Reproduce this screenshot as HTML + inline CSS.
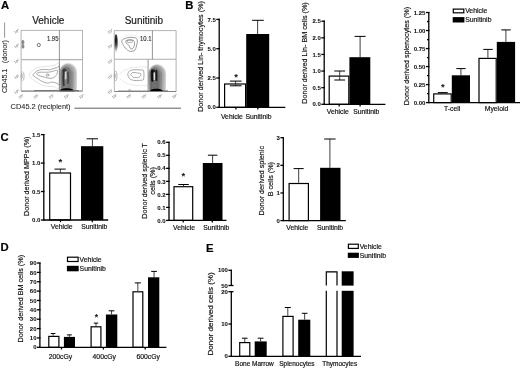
<!DOCTYPE html>
<html><head><meta charset="utf-8"><title>Figure</title>
<style>
html,body{margin:0;padding:0;background:#fff;}
body{width:520px;height:368px;overflow:hidden;}
svg{display:block;font-family:"Liberation Sans",sans-serif;will-change:transform;-webkit-font-smoothing:antialiased;}
</style></head>
<body>
<svg width="520" height="368" viewBox="0 0 520 368">
<defs><filter id="gblur" x="0" y="0" width="100%" height="100%"><feGaussianBlur stdDeviation="0.3"/></filter></defs>
<rect width="520" height="368" fill="#fff"/>
<g filter="url(#gblur)">
<text x="1.00" y="8.70" font-size="11.3" text-anchor="start" font-weight="bold" fill="#000" stroke="#000" stroke-width="0.18" >A</text>
<text x="185.20" y="8.90" font-size="11.3" text-anchor="start" font-weight="bold" fill="#000" stroke="#000" stroke-width="0.18" >B</text>
<text x="0.60" y="141.20" font-size="11.3" text-anchor="start" font-weight="bold" fill="#000" stroke="#000" stroke-width="0.18" >C</text>
<text x="0.60" y="251.30" font-size="11.3" text-anchor="start" font-weight="bold" fill="#000" stroke="#000" stroke-width="0.18" >D</text>
<text x="206.00" y="251.60" font-size="11.3" text-anchor="start" font-weight="bold" fill="#000" stroke="#000" stroke-width="0.18" >E</text>
<text x="32.20" y="24.40" font-size="10" text-anchor="start" font-weight="normal" fill="#1a1a1a" stroke="#1a1a1a" stroke-width="0.18" >Vehicle</text>
<text x="124.70" y="24.20" font-size="10" text-anchor="start" font-weight="normal" fill="#1a1a1a" stroke="#1a1a1a" stroke-width="0.18" >Sunitinib</text>
<defs>
<linearGradient id="edge2" x1="0" x2="1" y1="0" y2="0">
<stop offset="0" stop-color="#111"/><stop offset="0.5" stop-color="#444"/><stop offset="1" stop-color="#d0d0d0"/>
</linearGradient>
<linearGradient id="edge2v" x1="0" x2="0" y1="0" y2="1">
<stop offset="0" stop-color="#fff" stop-opacity="0.8"/><stop offset="0.25" stop-color="#fff" stop-opacity="0"/><stop offset="0.6" stop-color="#fff" stop-opacity="0.1"/><stop offset="1" stop-color="#fff" stop-opacity="0.85"/>
</linearGradient>
<radialGradient id="edgeR" cx="0.5" cy="0.3" r="0.7" fx="0.5" fy="0.3">
<stop offset="0" stop-color="#000"/><stop offset="0.3" stop-color="#333"/><stop offset="0.65" stop-color="#999"/><stop offset="1" stop-color="#fff" stop-opacity="0"/>
</radialGradient>
<filter id="soft" x="-20%" y="-20%" width="140%" height="140%"><feGaussianBlur stdDeviation="0.35"/></filter>
</defs>
<g fill="none" stroke-linejoin="round">
<g filter="url(#soft)">
<path d="M29.20,75.50 C29.12,74.33 30.53,72.95 31.50,71.80 C32.47,70.65 33.58,69.40 35.00,68.60 C36.42,67.80 38.33,67.30 40.00,67.00 C41.67,66.70 43.33,66.97 45.00,66.80 C46.67,66.63 48.33,66.30 50.00,66.00 C51.67,65.70 53.47,65.23 55.00,65.00 C56.53,64.77 58.50,60.93 59.20,64.60 C59.90,68.27 60.07,83.33 59.20,87.00 C58.33,90.67 55.87,86.70 54.00,86.60 C52.13,86.50 50.00,86.67 48.00,86.40 C46.00,86.13 43.92,85.73 42.00,85.00 C40.08,84.27 38.17,83.03 36.50,82.00 C34.83,80.97 33.22,79.88 32.00,78.80 C30.78,77.72 29.28,76.67 29.20,75.50 Z" stroke="#c8c8c8" stroke-width="0.5"/>
<path d="M32.90,75.10 C32.82,74.32 34.18,73.35 35.00,72.60 C35.82,71.85 36.80,71.08 37.80,70.60 C38.80,70.12 39.92,69.90 41.00,69.70 C42.08,69.50 43.30,69.42 44.30,69.40 C45.30,69.38 46.18,69.53 47.00,69.60 C47.82,69.67 48.45,69.87 49.20,69.80 C49.95,69.73 50.55,69.47 51.50,69.20 C52.45,68.93 53.88,68.50 54.90,68.20 C55.92,67.90 56.87,67.53 57.60,67.40 C58.33,67.27 59.02,64.67 59.30,67.40 C59.58,70.13 59.58,81.10 59.30,83.80 C59.02,86.50 58.20,83.77 57.60,83.60 C57.00,83.43 56.38,83.02 55.70,82.80 C55.02,82.58 54.17,82.42 53.50,82.30 C52.83,82.18 52.37,82.03 51.70,82.10 C51.03,82.17 50.18,82.52 49.50,82.70 C48.82,82.88 48.35,83.22 47.60,83.20 C46.85,83.18 45.82,82.87 45.00,82.60 C44.18,82.33 43.45,81.95 42.70,81.60 C41.95,81.25 41.18,80.90 40.50,80.50 C39.82,80.10 39.43,79.73 38.60,79.20 C37.77,78.67 36.45,77.98 35.50,77.30 C34.55,76.62 32.98,75.88 32.90,75.10 Z" stroke="#6e6e6e" stroke-width="0.6"/>
<path d="M36.60,73.50 C36.73,72.97 38.12,72.52 39.40,72.30 C40.68,72.08 42.80,72.22 44.30,72.20 C45.80,72.18 47.03,72.33 48.40,72.20 C49.77,72.07 51.30,71.70 52.50,71.40 C53.70,71.10 54.80,70.57 55.60,70.40 C56.40,70.23 57.03,69.90 57.30,70.40 C57.57,70.90 57.48,72.48 57.20,73.40 C56.92,74.32 56.13,75.23 55.60,75.90 C55.07,76.57 54.60,77.02 54.00,77.40 C53.40,77.78 52.67,78.03 52.00,78.20 C51.33,78.37 50.68,78.43 50.00,78.40 C49.32,78.37 48.58,78.15 47.90,78.00 C47.22,77.85 46.83,77.72 45.90,77.50 C44.97,77.28 43.52,77.03 42.30,76.70 C41.08,76.37 39.55,76.03 38.60,75.50 C37.65,74.97 36.47,74.03 36.60,73.50 Z" stroke="#6e6e6e" stroke-width="0.6"/>
<ellipse cx="47.6" cy="75.1" rx="1.5" ry="1.0" stroke="#666" stroke-width="0.6"/>
</g>
<g filter="url(#soft)">
<path d="M59.90,90.40 C59.60,83.17 59.50,77.75 59.60,72.32 A8.50,8.92 0 0 1 76.60,72.32 C76.70,77.75 76.60,83.17 76.30,90.40 Z" fill="#dbdbdb" stroke="none"/>
<path d="M60.33,90.40 C60.03,83.13 59.93,77.69 60.03,72.24 A7.76,8.14 0 0 1 75.54,72.24 C75.64,77.69 75.54,83.13 75.24,90.40 Z" fill="#cdcdcd" stroke="none"/>
<path d="M60.76,90.40 C60.46,83.10 60.36,77.62 60.46,72.15 A7.01,7.36 0 0 1 74.49,72.15 C74.59,77.62 74.49,83.10 74.19,90.40 Z" fill="#c0c0c0" stroke="none"/>
<path d="M61.19,90.40 C60.89,83.06 60.79,77.56 60.89,72.06 A6.27,6.59 0 0 1 73.43,72.06 C73.53,77.56 73.43,83.06 73.13,90.40 Z" fill="#b3b3b3" stroke="none"/>
<path d="M61.61,90.40 C61.31,83.03 61.21,77.50 61.31,71.97 A5.53,5.80 0 0 1 72.37,71.97 C72.47,77.50 72.37,83.03 72.07,90.40 Z" fill="#a6a6a6" stroke="none"/>
<path d="M62.04,90.40 C61.74,82.99 61.64,77.44 61.74,71.88 A4.79,5.03 0 0 1 71.31,71.88 C71.41,77.44 71.31,82.99 71.01,90.40 Z" fill="#999999" stroke="none"/>
<path d="M62.47,90.40 C62.17,82.96 62.07,77.38 62.17,71.79 A4.04,4.25 0 0 1 70.26,71.79 C70.36,77.38 70.26,82.96 69.96,90.40 Z" fill="#8c8c8c" stroke="none"/>
<path d="M62.90,90.40 C62.60,82.92 62.50,77.31 62.60,71.71 A3.30,3.47 0 0 1 69.20,71.71 C69.30,77.31 69.20,82.92 68.90,90.40 Z" fill="#7f7f7f" stroke="none"/>
<path d="M59.90,90.40 C59.60,83.17 59.50,77.75 59.60,72.32 A8.50,8.92 0 0 1 76.60,72.32 C76.70,77.75 76.60,83.17 76.30,90.40" fill="none" stroke="#a8a8a8" stroke-width="0.38"/>
<path d="M60.33,90.40 C60.03,83.13 59.93,77.69 60.03,72.24 A7.76,8.14 0 0 1 75.54,72.24 C75.64,77.69 75.54,83.13 75.24,90.40" fill="none" stroke="#9b9b9b" stroke-width="0.38"/>
<path d="M60.76,90.40 C60.46,83.10 60.36,77.62 60.46,72.15 A7.01,7.36 0 0 1 74.49,72.15 C74.59,77.62 74.49,83.10 74.19,90.40" fill="none" stroke="#8e8e8e" stroke-width="0.38"/>
<path d="M61.19,90.40 C60.89,83.06 60.79,77.56 60.89,72.06 A6.27,6.59 0 0 1 73.43,72.06 C73.53,77.56 73.43,83.06 73.13,90.40" fill="none" stroke="#828282" stroke-width="0.38"/>
<path d="M61.61,90.40 C61.31,83.03 61.21,77.50 61.31,71.97 A5.53,5.80 0 0 1 72.37,71.97 C72.47,77.50 72.37,83.03 72.07,90.40" fill="none" stroke="#757575" stroke-width="0.38"/>
<path d="M62.04,90.40 C61.74,82.99 61.64,77.44 61.74,71.88 A4.79,5.03 0 0 1 71.31,71.88 C71.41,77.44 71.31,82.99 71.01,90.40" fill="none" stroke="#696969" stroke-width="0.38"/>
<path d="M62.47,90.40 C62.17,82.96 62.07,77.38 62.17,71.79 A4.04,4.25 0 0 1 70.26,71.79 C70.36,77.38 70.26,82.96 69.96,90.40" fill="none" stroke="#5c5c5c" stroke-width="0.38"/>
<path d="M62.90,90.40 C62.60,82.92 62.50,77.31 62.60,71.71 A3.30,3.47 0 0 1 69.20,71.71 C69.30,77.31 69.20,82.92 68.90,90.40" fill="none" stroke="#505050" stroke-width="0.38"/>
<ellipse cx="64.60" cy="70.14" rx="2.0" ry="1.5" fill="#333" fill-opacity="0.85"/>
<path d="M63.70,70.24 C63.30,73.24 63.40,82.24 63.80,85.24" fill="none" stroke="#333" stroke-width="1.7" stroke-linecap="round"/>
<path d="M67.80,72.24 C68.20,75.24 68.20,80.24 67.90,83.24" fill="none" stroke="#333" stroke-opacity="0.85" stroke-width="1.4" stroke-linecap="round"/>
<path d="M65.80,71.54 V79.24" stroke="#f0f0f0" stroke-width="1.1"/>
<path d="M62.20,71.74 C62.02,78.74 62.20,84.40 62.56,90.40" stroke="#6a6a6a" stroke-width="0.35"/>
<path d="M69.40,71.74 C69.58,78.74 69.40,84.40 69.04,90.40" stroke="#6a6a6a" stroke-width="0.35"/>
<path d="M71.20,71.74 C71.47,78.74 71.20,84.40 70.66,90.40" stroke="#6a6a6a" stroke-width="0.35"/>
<path d="M72.80,71.74 C73.15,78.74 72.80,84.40 72.10,90.40" stroke="#6a6a6a" stroke-width="0.35"/>
</g>
<g filter="url(#soft)">
<path d="M34,90.6 L60,90.4" stroke="#555" stroke-width="0.9"/>
<path d="M59.6,91.6 C59.8,89.4 62.5,88.4 66.5,88.3 C70.5,88.2 73.4,88.8 74.6,91.6 Z" fill="#000"/>
<path d="M73,90.6 L79,90.6" stroke="#444" stroke-width="0.9"/>
</g>
<g filter="url(#soft)">
<ellipse cx="22.6" cy="76.3" rx="1.5" ry="4.4" stroke="#8a8a8a" stroke-width="0.6"/>
<ellipse cx="22.6" cy="76.3" rx="0.5" ry="2.2" fill="#c4c4c4"/>
<ellipse cx="22.9" cy="42.4" rx="1.5" ry="2.4" fill="#8a8a8a"/>
<ellipse cx="22.9" cy="46.4" rx="1.5" ry="2.2" fill="#8a8a8a"/>
<circle cx="38.8" cy="45.0" r="1.6" stroke="#6a6a6a" stroke-width="0.9"/>
</g>
<rect x="21.1" y="30.4" width="61.4" height="60.7" stroke="#9a9a9a" stroke-width="0.75"/>
<path d="M21.1,59.7 H82.5" stroke="#b4b4b4" stroke-width="1.2"/>
<path d="M59.4,30.4 V91.1" stroke="#707070" stroke-width="0.75"/>
<path d="M21.1,91.1 H82.5" stroke="#7a7a7a" stroke-width="0.9"/>
<g filter="url(#soft)">
<path d="M119.2,47.5 C117.8,41 121.5,35.6 128,35.2 C134,34.9 139,35.6 140.2,39.2" stroke="#dadada" stroke-width="0.5"/>
<path d="M121.60,41.50 C121.52,40.52 122.43,40.00 123.00,39.50 C123.57,39.00 124.17,38.82 125.00,38.50 C125.83,38.18 126.97,37.80 128.00,37.60 C129.03,37.40 130.20,37.30 131.20,37.30 C132.20,37.30 133.10,37.40 134.00,37.60 C134.90,37.80 136.03,37.93 136.60,38.50 C137.17,39.07 137.33,40.12 137.40,41.00 C137.47,41.88 137.20,42.80 137.00,43.80 C136.80,44.80 136.53,45.97 136.20,47.00 C135.87,48.03 135.62,49.30 135.00,50.00 C134.38,50.70 133.38,51.00 132.50,51.20 C131.62,51.40 130.55,51.40 129.70,51.20 C128.85,51.00 128.15,50.57 127.40,50.00 C126.65,49.43 125.85,48.57 125.20,47.80 C124.55,47.03 124.10,46.45 123.50,45.40 C122.90,44.35 121.68,42.48 121.60,41.50 Z" stroke="#666" stroke-width="0.65"/>
<path d="M125.80,40.80 C126.13,40.25 127.55,40.32 128.50,40.20 C129.45,40.08 130.67,40.07 131.50,40.10 C132.33,40.13 133.00,40.00 133.50,40.40 C134.00,40.80 134.37,41.67 134.50,42.50 C134.63,43.33 134.48,44.55 134.30,45.40 C134.12,46.25 133.72,47.03 133.40,47.60 C133.08,48.17 132.88,48.65 132.40,48.80 C131.92,48.95 130.98,48.88 130.50,48.50 C130.02,48.12 129.83,47.12 129.50,46.50 C129.17,45.88 129.00,45.30 128.50,44.80 C128.00,44.30 126.95,44.17 126.50,43.50 C126.05,42.83 125.47,41.35 125.80,40.80 Z" stroke="#666" stroke-width="0.65"/>
<rect x="127.2" y="39.8" width="5.2" height="2.6" rx="0.8" stroke="#777" stroke-width="0.6"/>
</g>
<g filter="url(#soft)">
<ellipse cx="116.0" cy="44.0" rx="2.1" ry="10.0" fill="url(#edgeR)"/>
</g>
<g filter="url(#soft)">
<path d="M119.5,75 C123,68.5 134,66.5 147.8,66.8" stroke="#d2d2d2" stroke-width="0.5"/>
<path d="M119.5,78 C125,85.5 136,86 147.8,85.4" stroke="#d2d2d2" stroke-width="0.5"/>
<path d="M127.80,74.40 C127.77,73.08 128.73,71.75 129.60,71.00 C130.47,70.25 131.77,70.10 133.00,69.90 C134.23,69.70 135.70,69.78 137.00,69.80 C138.30,69.82 139.70,69.83 140.80,70.00 C141.90,70.17 143.13,69.27 143.60,70.80 C144.07,72.33 144.12,77.62 143.60,79.20 C143.08,80.78 141.63,80.07 140.50,80.30 C139.37,80.53 138.02,80.62 136.80,80.60 C135.58,80.58 134.37,80.48 133.20,80.20 C132.03,79.92 130.70,79.87 129.80,78.90 C128.90,77.93 127.83,75.72 127.80,74.40 Z" stroke="#6e6e6e" stroke-width="0.6"/>
<path d="M130.80,74.60 C130.73,73.87 131.83,72.93 132.60,72.60 C133.37,72.27 134.53,72.52 135.40,72.60 C136.27,72.68 136.97,72.97 137.80,73.10 C138.63,73.23 139.93,72.98 140.40,73.40 C140.87,73.82 140.90,74.93 140.60,75.60 C140.30,76.27 139.40,77.07 138.60,77.40 C137.80,77.73 136.73,77.67 135.80,77.60 C134.87,77.53 133.83,77.50 133.00,77.00 C132.17,76.50 130.87,75.33 130.80,74.60 Z" stroke="#6e6e6e" stroke-width="0.6"/>
</g>
<g filter="url(#soft)">
<path d="M148.90,90.80 C148.60,83.89 148.50,78.71 148.60,73.52 A8.50,8.93 0 0 1 165.60,73.52 C165.70,78.71 165.60,83.89 165.30,90.80 Z" fill="#d6d6d6" stroke="none"/>
<path d="M149.26,90.80 C148.96,83.84 148.86,78.61 148.96,73.39 A7.76,8.14 0 0 1 164.47,73.39 C164.57,78.61 164.47,83.84 164.17,90.80 Z" fill="#c7c7c7" stroke="none"/>
<path d="M149.61,90.80 C149.31,83.78 149.21,78.52 149.31,73.25 A7.01,7.37 0 0 1 163.34,73.25 C163.44,78.52 163.34,83.78 163.04,90.80 Z" fill="#b8b8b8" stroke="none"/>
<path d="M149.97,90.80 C149.67,83.73 149.57,78.42 149.67,73.12 A6.27,6.59 0 0 1 162.21,73.12 C162.31,78.42 162.21,83.73 161.91,90.80 Z" fill="#aaaaaa" stroke="none"/>
<path d="M150.33,90.80 C150.03,83.67 149.93,78.33 150.03,72.98 A5.53,5.80 0 0 1 161.09,72.98 C161.19,78.33 161.09,83.67 160.79,90.80 Z" fill="#9b9b9b" stroke="none"/>
<path d="M150.69,90.80 C150.39,83.62 150.29,78.23 150.39,72.84 A4.79,5.02 0 0 1 159.96,72.84 C160.06,78.23 159.96,83.62 159.66,90.80 Z" fill="#8d8d8d" stroke="none"/>
<path d="M151.04,90.80 C150.74,83.56 150.64,78.13 150.74,72.71 A4.04,4.25 0 0 1 158.83,72.71 C158.93,78.13 158.83,83.56 158.53,90.80 Z" fill="#7e7e7e" stroke="none"/>
<path d="M151.40,90.80 C151.10,83.51 151.00,78.04 151.10,72.57 A3.30,3.46 0 0 1 157.70,72.57 C157.80,78.04 157.70,83.51 157.40,90.80 Z" fill="#707070" stroke="none"/>
<path d="M148.90,90.80 C148.60,83.89 148.50,78.71 148.60,73.52 A8.50,8.93 0 0 1 165.60,73.52 C165.70,78.71 165.60,83.89 165.30,90.80" fill="none" stroke="#a8a8a8" stroke-width="0.38"/>
<path d="M149.26,90.80 C148.96,83.84 148.86,78.61 148.96,73.39 A7.76,8.14 0 0 1 164.47,73.39 C164.57,78.61 164.47,83.84 164.17,90.80" fill="none" stroke="#9b9b9b" stroke-width="0.38"/>
<path d="M149.61,90.80 C149.31,83.78 149.21,78.52 149.31,73.25 A7.01,7.37 0 0 1 163.34,73.25 C163.44,78.52 163.34,83.78 163.04,90.80" fill="none" stroke="#8e8e8e" stroke-width="0.38"/>
<path d="M149.97,90.80 C149.67,83.73 149.57,78.42 149.67,73.12 A6.27,6.59 0 0 1 162.21,73.12 C162.31,78.42 162.21,83.73 161.91,90.80" fill="none" stroke="#828282" stroke-width="0.38"/>
<path d="M150.33,90.80 C150.03,83.67 149.93,78.33 150.03,72.98 A5.53,5.80 0 0 1 161.09,72.98 C161.19,78.33 161.09,83.67 160.79,90.80" fill="none" stroke="#757575" stroke-width="0.38"/>
<path d="M150.69,90.80 C150.39,83.62 150.29,78.23 150.39,72.84 A4.79,5.02 0 0 1 159.96,72.84 C160.06,78.23 159.96,83.62 159.66,90.80" fill="none" stroke="#696969" stroke-width="0.38"/>
<path d="M151.04,90.80 C150.74,83.56 150.64,78.13 150.74,72.71 A4.04,4.25 0 0 1 158.83,72.71 C158.93,78.13 158.83,83.56 158.53,90.80" fill="none" stroke="#5c5c5c" stroke-width="0.38"/>
<path d="M151.40,90.80 C151.10,83.51 151.00,78.04 151.10,72.57 A3.30,3.46 0 0 1 157.70,72.57 C157.80,78.04 157.70,83.51 157.40,90.80" fill="none" stroke="#505050" stroke-width="0.38"/>
<ellipse cx="153.10" cy="71.00" rx="2.0" ry="1.5" fill="#111" fill-opacity="0.85"/>
<path d="M152.20,70.60 C151.80,73.60 151.90,77.60 152.30,80.60" fill="none" stroke="#111" stroke-width="2.4" stroke-linecap="round"/>
<path d="M156.30,71.10 C156.70,74.10 156.70,77.10 156.40,80.10" fill="none" stroke="#111" stroke-opacity="0.85" stroke-width="2.0" stroke-linecap="round"/>
<path d="M154.30,72.40 V80.10" stroke="#f0f0f0" stroke-width="1.1"/>
<path d="M150.70,72.60 C150.52,79.60 150.70,84.80 151.06,90.80" stroke="#6a6a6a" stroke-width="0.35"/>
<path d="M157.90,72.60 C158.08,79.60 157.90,84.80 157.54,90.80" stroke="#6a6a6a" stroke-width="0.35"/>
<path d="M159.70,72.60 C159.97,79.60 159.70,84.80 159.16,90.80" stroke="#6a6a6a" stroke-width="0.35"/>
<path d="M161.30,72.60 C161.65,79.60 161.30,84.80 160.60,90.80" stroke="#6a6a6a" stroke-width="0.35"/>
</g>
<g filter="url(#soft)">
<path d="M149.4,91.8 C149.8,89.8 152.2,88.8 155.6,88.8 C159.6,88.8 162.2,89.3 163.5,91.8 Z" fill="#000"/>
<path d="M162,91 L168,91" stroke="#444" stroke-width="0.9"/>
<path d="M118,91 L149,91" stroke="#666" stroke-width="0.7"/>
<circle cx="129.6" cy="90.6" r="1.1" stroke="#888" stroke-width="0.6"/>
<ellipse cx="115.6" cy="76" rx="1.4" ry="4.8" stroke="#8a8a8a" stroke-width="0.6"/>
<ellipse cx="115.4" cy="76" rx="0.5" ry="2.4" fill="#bbb"/>
</g>
<rect x="114.3" y="30.6" width="61.8" height="60.9" stroke="#9a9a9a" stroke-width="0.75"/>
<path d="M114.3,59.3 H176.1" stroke="#adadad" stroke-width="1.1"/>
<path d="M152.4,30.6 V59.3 M148.1,59.3 V91.5" stroke="#707070" stroke-width="0.75"/>
<path d="M114.3,91.5 H176.1" stroke="#7a7a7a" stroke-width="0.9"/>
</g>
<g font-size="3.6" fill="#505050" text-anchor="middle" filter="url(#soft)">
<text x="0" y="0" transform="translate(17.4,32.4) rotate(-30)">10<tspan font-size="2.4" dy="-1.4">4</tspan></text>
<text x="0" y="0" transform="translate(17.4,47.2) rotate(-30)">10<tspan font-size="2.4" dy="-1.4">3</tspan></text>
<text x="0" y="0" transform="translate(17.4,62.400000000000006) rotate(-30)">10<tspan font-size="2.4" dy="-1.4">2</tspan></text>
<text x="0" y="0" transform="translate(17.4,77.8) rotate(-30)">10<tspan font-size="2.4" dy="-1.4">1</tspan></text>
<text x="0" y="0" transform="translate(17.4,93.0) rotate(-30)">10<tspan font-size="2.4" dy="-1.4">0</tspan></text>
<text x="0" y="0" transform="translate(110.8,32.6) rotate(-30)">10<tspan font-size="2.4" dy="-1.4">4</tspan></text>
<text x="0" y="0" transform="translate(110.8,47.400000000000006) rotate(-30)">10<tspan font-size="2.4" dy="-1.4">3</tspan></text>
<text x="0" y="0" transform="translate(110.8,62.6) rotate(-30)">10<tspan font-size="2.4" dy="-1.4">2</tspan></text>
<text x="0" y="0" transform="translate(110.8,77.8) rotate(-30)">10<tspan font-size="2.4" dy="-1.4">1</tspan></text>
<text x="0" y="0" transform="translate(110.8,92.8) rotate(-30)">10<tspan font-size="2.4" dy="-1.4">0</tspan></text>
<text x="0" y="0" transform="translate(21.6,97.60000000000001) rotate(-30)">10<tspan font-size="2.4" dy="-1.4">0</tspan></text>
<text x="0" y="0" transform="translate(36.6,97.60000000000001) rotate(-30)">10<tspan font-size="2.4" dy="-1.4">1</tspan></text>
<text x="0" y="0" transform="translate(51.8,97.60000000000001) rotate(-30)">10<tspan font-size="2.4" dy="-1.4">2</tspan></text>
<text x="0" y="0" transform="translate(67.0,97.60000000000001) rotate(-30)">10<tspan font-size="2.4" dy="-1.4">3</tspan></text>
<text x="0" y="0" transform="translate(82.2,97.60000000000001) rotate(-30)">10<tspan font-size="2.4" dy="-1.4">4</tspan></text>
<text x="0" y="0" transform="translate(115.0,97.4) rotate(-30)">10<tspan font-size="2.4" dy="-1.4">0</tspan></text>
<text x="0" y="0" transform="translate(129.6,97.4) rotate(-30)">10<tspan font-size="2.4" dy="-1.4">1</tspan></text>
<text x="0" y="0" transform="translate(144.8,97.4) rotate(-30)">10<tspan font-size="2.4" dy="-1.4">2</tspan></text>
<text x="0" y="0" transform="translate(160.4,97.4) rotate(-30)">10<tspan font-size="2.4" dy="-1.4">3</tspan></text>
<text x="0" y="0" transform="translate(175.2,97.4) rotate(-30)">10<tspan font-size="2.4" dy="-1.4">4</tspan></text>
</g>
<g font-size="6.5" fill="#2a2a2a" stroke="#2a2a2a" stroke-width="0.12">
<text x="46.9" y="41.3" textLength="11.6" lengthAdjust="spacingAndGlyphs">1.95</text>
<text x="139.9" y="41.3" textLength="11.6" lengthAdjust="spacingAndGlyphs">10.1</text>
</g>
<text x="10.60" y="109.20" font-size="7.4" text-anchor="start" font-weight="normal" fill="#2a2a2a" stroke="#2a2a2a" stroke-width="0.1" >CD45.2 (recipient)</text>
<line x1="74.40" y1="108.20" x2="181.00" y2="108.20" stroke="#333" stroke-width="0.8"/>
<text x="0" y="0" font-size="7.2" fill="#2a2a2a" stroke="#2a2a2a" stroke-width="0.1" transform="translate(6.9,93.0) rotate(-90)"><tspan x="0">CD45.1</tspan><tspan x="29.8">(donor)</tspan></text>
<line x1="4.60" y1="22.50" x2="4.60" y2="37.70" stroke="#777" stroke-width="0.8"/>
<rect x="224.60" y="84.00" width="21.00" height="23.30" fill="#fff" stroke="#000" stroke-width="1.2"/>
<rect x="246.20" y="34.00" width="23.00" height="73.30" fill="#000"/>
<line x1="235.60" y1="81.10" x2="235.60" y2="83.40" stroke="#2a2a2a" stroke-width="0.9"/>
<line x1="229.90" y1="81.10" x2="241.60" y2="81.10" stroke="#000" stroke-width="1.0"/>
<line x1="235.60" y1="83.40" x2="235.60" y2="85.80" stroke="#2a2a2a" stroke-width="0.9"/>
<line x1="229.90" y1="85.80" x2="241.60" y2="85.80" stroke="#000" stroke-width="1.0"/>
<line x1="257.60" y1="20.30" x2="257.60" y2="34.00" stroke="#2a2a2a" stroke-width="0.9"/>
<line x1="252.10" y1="20.30" x2="263.80" y2="20.30" stroke="#000" stroke-width="1.0"/>
<text x="236.00" y="79.98" font-size="9.5" text-anchor="middle" font-weight="bold" fill="#111">*</text>
<line x1="219.20" y1="18.80" x2="219.20" y2="107.30" stroke="#000" stroke-width="1.3"/>
<line x1="216.30" y1="19.40" x2="219.85" y2="19.40" stroke="#000" stroke-width="1.3"/>
<text x="215.80" y="21.56" font-size="6.0" text-anchor="end" font-weight="bold" fill="#111" stroke="#111" stroke-width="0.06" >7.5</text>
<line x1="216.30" y1="48.70" x2="219.85" y2="48.70" stroke="#000" stroke-width="1.3"/>
<text x="215.80" y="50.86" font-size="6.0" text-anchor="end" font-weight="bold" fill="#111" stroke="#111" stroke-width="0.06" >5.0</text>
<line x1="216.30" y1="78.00" x2="219.85" y2="78.00" stroke="#000" stroke-width="1.3"/>
<text x="215.80" y="80.16" font-size="6.0" text-anchor="end" font-weight="bold" fill="#111" stroke="#111" stroke-width="0.06" >2.5</text>
<line x1="216.30" y1="107.30" x2="219.85" y2="107.30" stroke="#000" stroke-width="1.3"/>
<text x="215.80" y="109.46" font-size="6.0" text-anchor="end" font-weight="bold" fill="#111" stroke="#111" stroke-width="0.06" >0.0</text>
<line x1="218.55" y1="107.30" x2="285.30" y2="107.30" stroke="#000" stroke-width="1.3"/>
<line x1="235.90" y1="107.30" x2="235.90" y2="109.50" stroke="#000" stroke-width="1.3"/>
<line x1="257.80" y1="107.30" x2="257.80" y2="109.50" stroke="#000" stroke-width="1.3"/>
<text x="231.90" y="118.75" font-size="6.8" text-anchor="middle" font-weight="normal" fill="#111" stroke="#111" stroke-width="0.18" >Vehicle</text>
<text x="258.50" y="118.75" font-size="6.8" text-anchor="middle" font-weight="normal" fill="#111" stroke="#111" stroke-width="0.18" >Sunitinib</text>
<text x="0" y="0" font-size="7.2" text-anchor="middle" fill="#111" stroke="#111" stroke-width="0.18" transform="translate(202.99,56.50) rotate(-90)">Donor derived Lin- thymocytes (%)</text>
<rect x="329.20" y="76.10" width="19.60" height="28.20" fill="#fff" stroke="#000" stroke-width="1.2"/>
<rect x="349.40" y="57.20" width="20.90" height="47.10" fill="#000"/>
<line x1="339.70" y1="71.00" x2="339.70" y2="75.50" stroke="#2a2a2a" stroke-width="0.9"/>
<line x1="334.30" y1="71.00" x2="345.10" y2="71.00" stroke="#000" stroke-width="1.0"/>
<line x1="339.70" y1="75.50" x2="339.70" y2="80.00" stroke="#2a2a2a" stroke-width="0.9"/>
<line x1="334.30" y1="80.00" x2="345.10" y2="80.00" stroke="#000" stroke-width="1.0"/>
<line x1="360.10" y1="36.40" x2="360.10" y2="57.20" stroke="#2a2a2a" stroke-width="0.9"/>
<line x1="354.60" y1="36.40" x2="365.60" y2="36.40" stroke="#000" stroke-width="1.0"/>
<line x1="324.20" y1="20.60" x2="324.20" y2="104.30" stroke="#000" stroke-width="1.3"/>
<line x1="321.30" y1="21.20" x2="324.85" y2="21.20" stroke="#000" stroke-width="1.3"/>
<text x="320.80" y="23.36" font-size="6.0" text-anchor="end" font-weight="bold" fill="#111" stroke="#111" stroke-width="0.06" >2.5</text>
<line x1="321.30" y1="37.82" x2="324.85" y2="37.82" stroke="#000" stroke-width="1.3"/>
<text x="320.80" y="39.98" font-size="6.0" text-anchor="end" font-weight="bold" fill="#111" stroke="#111" stroke-width="0.06" >2.0</text>
<line x1="321.30" y1="54.44" x2="324.85" y2="54.44" stroke="#000" stroke-width="1.3"/>
<text x="320.80" y="56.60" font-size="6.0" text-anchor="end" font-weight="bold" fill="#111" stroke="#111" stroke-width="0.06" >1.5</text>
<line x1="321.30" y1="71.06" x2="324.85" y2="71.06" stroke="#000" stroke-width="1.3"/>
<text x="320.80" y="73.22" font-size="6.0" text-anchor="end" font-weight="bold" fill="#111" stroke="#111" stroke-width="0.06" >1.0</text>
<line x1="321.30" y1="87.68" x2="324.85" y2="87.68" stroke="#000" stroke-width="1.3"/>
<text x="320.80" y="89.84" font-size="6.0" text-anchor="end" font-weight="bold" fill="#111" stroke="#111" stroke-width="0.06" >0.5</text>
<line x1="321.30" y1="104.30" x2="324.85" y2="104.30" stroke="#000" stroke-width="1.3"/>
<text x="320.80" y="106.46" font-size="6.0" text-anchor="end" font-weight="bold" fill="#111" stroke="#111" stroke-width="0.06" >0.0</text>
<line x1="323.55" y1="104.30" x2="385.40" y2="104.30" stroke="#000" stroke-width="1.3"/>
<line x1="339.20" y1="104.30" x2="339.20" y2="106.50" stroke="#000" stroke-width="1.3"/>
<line x1="360.10" y1="104.30" x2="360.10" y2="106.50" stroke="#000" stroke-width="1.3"/>
<text x="337.80" y="114.05" font-size="6.8" text-anchor="middle" font-weight="normal" fill="#111" stroke="#111" stroke-width="0.18" >Vehicle</text>
<text x="366.30" y="114.05" font-size="6.8" text-anchor="middle" font-weight="normal" fill="#111" stroke="#111" stroke-width="0.18" >Sunitinib</text>
<text x="0" y="0" font-size="7.2" text-anchor="middle" fill="#111" stroke="#111" stroke-width="0.18" transform="translate(306.99,53.00) rotate(-90)">Donor derived Lin- BM cells (%)</text>
<rect x="433.70" y="93.90" width="17.50" height="8.70" fill="#fff" stroke="#000" stroke-width="1.2"/>
<rect x="451.80" y="75.30" width="18.20" height="27.30" fill="#000"/>
<rect x="479.00" y="58.40" width="17.20" height="44.20" fill="#fff" stroke="#000" stroke-width="1.2"/>
<rect x="496.80" y="41.90" width="18.30" height="60.70" fill="#000"/>
<line x1="442.80" y1="92.60" x2="442.80" y2="93.30" stroke="#2a2a2a" stroke-width="0.9"/>
<line x1="437.90" y1="92.60" x2="447.70" y2="92.60" stroke="#000" stroke-width="1.0"/>
<line x1="460.90" y1="68.60" x2="460.90" y2="75.30" stroke="#2a2a2a" stroke-width="0.9"/>
<line x1="456.30" y1="68.60" x2="465.70" y2="68.60" stroke="#000" stroke-width="1.0"/>
<line x1="487.90" y1="49.40" x2="487.90" y2="57.80" stroke="#2a2a2a" stroke-width="0.9"/>
<line x1="483.30" y1="49.40" x2="492.70" y2="49.40" stroke="#000" stroke-width="1.0"/>
<line x1="505.90" y1="29.90" x2="505.90" y2="41.90" stroke="#2a2a2a" stroke-width="0.9"/>
<line x1="501.30" y1="29.90" x2="510.70" y2="29.90" stroke="#000" stroke-width="1.0"/>
<text x="442.80" y="90.28" font-size="9.5" text-anchor="middle" font-weight="bold" fill="#111">*</text>
<line x1="428.80" y1="11.90" x2="428.80" y2="102.60" stroke="#000" stroke-width="1.3"/>
<line x1="425.90" y1="12.50" x2="429.45" y2="12.50" stroke="#000" stroke-width="1.3"/>
<text x="425.40" y="14.66" font-size="6.0" text-anchor="end" font-weight="bold" fill="#111" stroke="#111" stroke-width="0.06" >1.25</text>
<line x1="425.90" y1="30.52" x2="429.45" y2="30.52" stroke="#000" stroke-width="1.3"/>
<text x="425.40" y="32.68" font-size="6.0" text-anchor="end" font-weight="bold" fill="#111" stroke="#111" stroke-width="0.06" >1.00</text>
<line x1="425.90" y1="48.54" x2="429.45" y2="48.54" stroke="#000" stroke-width="1.3"/>
<text x="425.40" y="50.70" font-size="6.0" text-anchor="end" font-weight="bold" fill="#111" stroke="#111" stroke-width="0.06" >0.75</text>
<line x1="425.90" y1="66.56" x2="429.45" y2="66.56" stroke="#000" stroke-width="1.3"/>
<text x="425.40" y="68.72" font-size="6.0" text-anchor="end" font-weight="bold" fill="#111" stroke="#111" stroke-width="0.06" >0.50</text>
<line x1="425.90" y1="84.58" x2="429.45" y2="84.58" stroke="#000" stroke-width="1.3"/>
<text x="425.40" y="86.74" font-size="6.0" text-anchor="end" font-weight="bold" fill="#111" stroke="#111" stroke-width="0.06" >0.25</text>
<line x1="425.90" y1="102.60" x2="429.45" y2="102.60" stroke="#000" stroke-width="1.3"/>
<text x="425.40" y="104.76" font-size="6.0" text-anchor="end" font-weight="bold" fill="#111" stroke="#111" stroke-width="0.06" >0.00</text>
<line x1="427.00" y1="21.51" x2="428.80" y2="21.51" stroke="#000" stroke-width="1.3"/>
<line x1="427.00" y1="39.53" x2="428.80" y2="39.53" stroke="#000" stroke-width="1.3"/>
<line x1="427.00" y1="57.55" x2="428.80" y2="57.55" stroke="#000" stroke-width="1.3"/>
<line x1="427.00" y1="75.57" x2="428.80" y2="75.57" stroke="#000" stroke-width="1.3"/>
<line x1="427.00" y1="93.59" x2="428.80" y2="93.59" stroke="#000" stroke-width="1.3"/>
<line x1="428.15" y1="102.60" x2="520.00" y2="102.60" stroke="#000" stroke-width="1.3"/>
<text x="452.10" y="110.65" font-size="6.8" text-anchor="middle" font-weight="normal" fill="#111" stroke="#111" stroke-width="0.18" >T-cell</text>
<text x="496.50" y="110.65" font-size="6.8" text-anchor="middle" font-weight="normal" fill="#111" stroke="#111" stroke-width="0.18" >Myeloid</text>
<rect x="453.30" y="9.10" width="10.50" height="3.70" fill="#fff" stroke="#000" stroke-width="1.2"/>
<rect x="452.70" y="17.10" width="11.70" height="5.40" fill="#000"/>
<text x="465.20" y="13.42" font-size="6.85" text-anchor="start" font-weight="normal" fill="#111" stroke="#111" stroke-width="0.18" >Vehicle</text>
<text x="465.20" y="22.27" font-size="6.85" text-anchor="start" font-weight="normal" fill="#111" stroke="#111" stroke-width="0.18" >Sunitinib</text>
<text x="0" y="0" font-size="7.2" text-anchor="middle" fill="#111" stroke="#111" stroke-width="0.18" transform="translate(408.99,56.10) rotate(-90)">Donor derived splenocytes (%)</text>
<rect x="49.70" y="173.00" width="20.80" height="47.00" fill="#fff" stroke="#000" stroke-width="1.2"/>
<rect x="81.00" y="146.20" width="22.30" height="73.80" fill="#000"/>
<line x1="60.40" y1="169.10" x2="60.40" y2="172.40" stroke="#2a2a2a" stroke-width="0.9"/>
<line x1="54.50" y1="169.10" x2="65.70" y2="169.10" stroke="#000" stroke-width="1.0"/>
<line x1="92.40" y1="138.80" x2="92.40" y2="146.20" stroke="#2a2a2a" stroke-width="0.9"/>
<line x1="86.60" y1="138.80" x2="98.00" y2="138.80" stroke="#000" stroke-width="1.0"/>
<text x="60.40" y="164.97" font-size="9.5" text-anchor="middle" font-weight="bold" fill="#111">*</text>
<line x1="43.80" y1="134.00" x2="43.80" y2="220.00" stroke="#000" stroke-width="1.3"/>
<line x1="40.90" y1="134.60" x2="44.45" y2="134.60" stroke="#000" stroke-width="1.3"/>
<text x="40.40" y="136.76" font-size="6.0" text-anchor="end" font-weight="bold" fill="#111" stroke="#111" stroke-width="0.06" >1.5</text>
<line x1="40.90" y1="163.07" x2="44.45" y2="163.07" stroke="#000" stroke-width="1.3"/>
<text x="40.40" y="165.23" font-size="6.0" text-anchor="end" font-weight="bold" fill="#111" stroke="#111" stroke-width="0.06" >1.0</text>
<line x1="40.90" y1="191.53" x2="44.45" y2="191.53" stroke="#000" stroke-width="1.3"/>
<text x="40.40" y="193.69" font-size="6.0" text-anchor="end" font-weight="bold" fill="#111" stroke="#111" stroke-width="0.06" >0.5</text>
<line x1="40.90" y1="220.00" x2="44.45" y2="220.00" stroke="#000" stroke-width="1.3"/>
<text x="40.40" y="222.16" font-size="6.0" text-anchor="end" font-weight="bold" fill="#111" stroke="#111" stroke-width="0.06" >0.0</text>
<line x1="43.15" y1="220.00" x2="108.20" y2="220.00" stroke="#000" stroke-width="1.3"/>
<line x1="60.50" y1="220.00" x2="60.50" y2="222.20" stroke="#000" stroke-width="1.3"/>
<line x1="92.30" y1="220.00" x2="92.30" y2="222.20" stroke="#000" stroke-width="1.3"/>
<text x="61.70" y="229.35" font-size="6.8" text-anchor="middle" font-weight="normal" fill="#111" stroke="#111" stroke-width="0.18" >Vehicle</text>
<text x="94.20" y="229.35" font-size="6.8" text-anchor="middle" font-weight="normal" fill="#111" stroke="#111" stroke-width="0.18" >Sunitinib</text>
<text x="0" y="0" font-size="7.2" text-anchor="middle" fill="#111" stroke="#111" stroke-width="0.18" transform="translate(29.09,176.30) rotate(-90)">Donor derived MPPs (%)</text>
<rect x="174.00" y="186.70" width="18.70" height="33.70" fill="#fff" stroke="#000" stroke-width="1.2"/>
<rect x="202.80" y="163.00" width="19.70" height="57.40" fill="#000"/>
<line x1="183.50" y1="184.50" x2="183.50" y2="186.10" stroke="#2a2a2a" stroke-width="0.9"/>
<line x1="178.30" y1="184.50" x2="188.80" y2="184.50" stroke="#000" stroke-width="1.0"/>
<line x1="212.60" y1="155.20" x2="212.60" y2="163.00" stroke="#2a2a2a" stroke-width="0.9"/>
<line x1="207.90" y1="155.20" x2="217.40" y2="155.20" stroke="#000" stroke-width="1.0"/>
<text x="183.40" y="178.78" font-size="9.5" text-anchor="middle" font-weight="bold" fill="#111">*</text>
<line x1="169.00" y1="141.70" x2="169.00" y2="220.40" stroke="#000" stroke-width="1.3"/>
<line x1="166.10" y1="142.30" x2="169.65" y2="142.30" stroke="#000" stroke-width="1.3"/>
<text x="165.60" y="144.46" font-size="6.0" text-anchor="end" font-weight="bold" fill="#111" stroke="#111" stroke-width="0.06" >0.6</text>
<line x1="166.10" y1="155.32" x2="169.65" y2="155.32" stroke="#000" stroke-width="1.3"/>
<text x="165.60" y="157.48" font-size="6.0" text-anchor="end" font-weight="bold" fill="#111" stroke="#111" stroke-width="0.06" >0.5</text>
<line x1="166.10" y1="168.33" x2="169.65" y2="168.33" stroke="#000" stroke-width="1.3"/>
<text x="165.60" y="170.49" font-size="6.0" text-anchor="end" font-weight="bold" fill="#111" stroke="#111" stroke-width="0.06" >0.4</text>
<line x1="166.10" y1="181.35" x2="169.65" y2="181.35" stroke="#000" stroke-width="1.3"/>
<text x="165.60" y="183.51" font-size="6.0" text-anchor="end" font-weight="bold" fill="#111" stroke="#111" stroke-width="0.06" >0.3</text>
<line x1="166.10" y1="194.37" x2="169.65" y2="194.37" stroke="#000" stroke-width="1.3"/>
<text x="165.60" y="196.53" font-size="6.0" text-anchor="end" font-weight="bold" fill="#111" stroke="#111" stroke-width="0.06" >0.2</text>
<line x1="166.10" y1="207.38" x2="169.65" y2="207.38" stroke="#000" stroke-width="1.3"/>
<text x="165.60" y="209.54" font-size="6.0" text-anchor="end" font-weight="bold" fill="#111" stroke="#111" stroke-width="0.06" >0.1</text>
<line x1="166.10" y1="220.40" x2="169.65" y2="220.40" stroke="#000" stroke-width="1.3"/>
<text x="165.60" y="222.56" font-size="6.0" text-anchor="end" font-weight="bold" fill="#111" stroke="#111" stroke-width="0.06" >0.0</text>
<line x1="168.35" y1="220.40" x2="226.50" y2="220.40" stroke="#000" stroke-width="1.3"/>
<line x1="183.20" y1="220.40" x2="183.20" y2="222.60" stroke="#000" stroke-width="1.3"/>
<line x1="212.30" y1="220.40" x2="212.30" y2="222.60" stroke="#000" stroke-width="1.3"/>
<text x="184.00" y="229.55" font-size="6.8" text-anchor="middle" font-weight="normal" fill="#111" stroke="#111" stroke-width="0.18" >Vehicle</text>
<text x="216.30" y="229.55" font-size="6.8" text-anchor="middle" font-weight="normal" fill="#111" stroke="#111" stroke-width="0.18" >Sunitinib</text>
<text x="0" y="0" font-size="7.2" text-anchor="middle" fill="#111" stroke="#111" stroke-width="0.18" transform="translate(146.89,180.90) rotate(-90)">Donor derived splenic T</text>
<text x="0" y="0" font-size="7.2" text-anchor="middle" fill="#111" stroke="#111" stroke-width="0.18" transform="translate(154.89,180.90) rotate(-90)">cells (%)</text>
<rect x="289.10" y="183.50" width="19.30" height="37.10" fill="#fff" stroke="#000" stroke-width="1.2"/>
<rect x="320.10" y="167.80" width="20.40" height="52.80" fill="#000"/>
<line x1="298.70" y1="168.60" x2="298.70" y2="182.90" stroke="#2a2a2a" stroke-width="0.9"/>
<line x1="293.60" y1="168.60" x2="303.70" y2="168.60" stroke="#000" stroke-width="1.0"/>
<line x1="329.90" y1="139.00" x2="329.90" y2="167.80" stroke="#2a2a2a" stroke-width="0.9"/>
<line x1="324.20" y1="139.00" x2="335.60" y2="139.00" stroke="#000" stroke-width="1.0"/>
<line x1="283.30" y1="137.10" x2="283.30" y2="220.60" stroke="#000" stroke-width="1.3"/>
<line x1="280.40" y1="137.70" x2="283.95" y2="137.70" stroke="#000" stroke-width="1.3"/>
<text x="279.90" y="139.86" font-size="6.0" text-anchor="end" font-weight="bold" fill="#111" stroke="#111" stroke-width="0.06" >3</text>
<line x1="280.40" y1="165.33" x2="283.95" y2="165.33" stroke="#000" stroke-width="1.3"/>
<text x="279.90" y="167.49" font-size="6.0" text-anchor="end" font-weight="bold" fill="#111" stroke="#111" stroke-width="0.06" >2</text>
<line x1="280.40" y1="192.97" x2="283.95" y2="192.97" stroke="#000" stroke-width="1.3"/>
<text x="279.90" y="195.13" font-size="6.0" text-anchor="end" font-weight="bold" fill="#111" stroke="#111" stroke-width="0.06" >1</text>
<line x1="280.40" y1="220.60" x2="283.95" y2="220.60" stroke="#000" stroke-width="1.3"/>
<text x="279.90" y="222.76" font-size="6.0" text-anchor="end" font-weight="bold" fill="#111" stroke="#111" stroke-width="0.06" >0</text>
<line x1="282.65" y1="220.60" x2="345.80" y2="220.60" stroke="#000" stroke-width="1.3"/>
<text x="297.30" y="229.55" font-size="6.8" text-anchor="middle" font-weight="normal" fill="#111" stroke="#111" stroke-width="0.18" >Vehicle</text>
<text x="330.10" y="229.55" font-size="6.8" text-anchor="middle" font-weight="normal" fill="#111" stroke="#111" stroke-width="0.18" >Sunitinib</text>
<text x="0" y="0" font-size="7.2" text-anchor="middle" fill="#111" stroke="#111" stroke-width="0.18" transform="translate(264.09,180.70) rotate(-90)">Donor derived splenic</text>
<text x="0" y="0" font-size="7.2" text-anchor="middle" fill="#111" stroke="#111" stroke-width="0.18" transform="translate(273.09,179.20) rotate(-90)">B cells (%)</text>
<rect x="48.80" y="336.40" width="10.10" height="10.90" fill="#fff" stroke="#000" stroke-width="1.2"/>
<line x1="53.10" y1="333.50" x2="53.10" y2="335.80" stroke="#2a2a2a" stroke-width="0.9"/>
<line x1="50.80" y1="333.50" x2="55.40" y2="333.50" stroke="#000" stroke-width="1.0"/>
<rect x="63.90" y="336.90" width="11.10" height="10.40" fill="#000"/>
<line x1="69.35" y1="334.90" x2="69.35" y2="336.90" stroke="#2a2a2a" stroke-width="0.9"/>
<line x1="66.90" y1="334.90" x2="71.80" y2="334.90" stroke="#000" stroke-width="1.0"/>
<rect x="91.10" y="326.80" width="9.80" height="20.50" fill="#fff" stroke="#000" stroke-width="1.2"/>
<line x1="96.00" y1="323.10" x2="96.00" y2="326.20" stroke="#2a2a2a" stroke-width="0.9"/>
<line x1="93.80" y1="323.10" x2="98.20" y2="323.10" stroke="#000" stroke-width="1.0"/>
<rect x="105.90" y="314.50" width="11.40" height="32.80" fill="#000"/>
<line x1="111.55" y1="310.80" x2="111.55" y2="314.50" stroke="#2a2a2a" stroke-width="0.9"/>
<line x1="108.70" y1="310.80" x2="114.40" y2="310.80" stroke="#000" stroke-width="1.0"/>
<rect x="133.00" y="291.80" width="9.80" height="55.50" fill="#fff" stroke="#000" stroke-width="1.2"/>
<line x1="137.85" y1="282.90" x2="137.85" y2="291.20" stroke="#2a2a2a" stroke-width="0.9"/>
<line x1="134.80" y1="282.90" x2="140.90" y2="282.90" stroke="#000" stroke-width="1.0"/>
<rect x="148.00" y="277.30" width="11.30" height="70.00" fill="#000"/>
<line x1="154.05" y1="271.40" x2="154.05" y2="277.30" stroke="#2a2a2a" stroke-width="0.9"/>
<line x1="151.20" y1="271.40" x2="156.90" y2="271.40" stroke="#000" stroke-width="1.0"/>
<text x="96.30" y="320.43" font-size="8.5" text-anchor="middle" font-weight="bold" fill="#111">*</text>
<line x1="39.90" y1="262.40" x2="39.90" y2="347.30" stroke="#000" stroke-width="1.3"/>
<line x1="37.00" y1="263.00" x2="40.55" y2="263.00" stroke="#000" stroke-width="1.3"/>
<text x="36.50" y="265.16" font-size="6.0" text-anchor="end" font-weight="bold" fill="#111" stroke="#111" stroke-width="0.06" >90</text>
<line x1="37.00" y1="272.37" x2="40.55" y2="272.37" stroke="#000" stroke-width="1.3"/>
<text x="36.50" y="274.53" font-size="6.0" text-anchor="end" font-weight="bold" fill="#111" stroke="#111" stroke-width="0.06" >80</text>
<line x1="37.00" y1="281.73" x2="40.55" y2="281.73" stroke="#000" stroke-width="1.3"/>
<text x="36.50" y="283.89" font-size="6.0" text-anchor="end" font-weight="bold" fill="#111" stroke="#111" stroke-width="0.06" >70</text>
<line x1="37.00" y1="291.10" x2="40.55" y2="291.10" stroke="#000" stroke-width="1.3"/>
<text x="36.50" y="293.26" font-size="6.0" text-anchor="end" font-weight="bold" fill="#111" stroke="#111" stroke-width="0.06" >60</text>
<line x1="37.00" y1="300.47" x2="40.55" y2="300.47" stroke="#000" stroke-width="1.3"/>
<text x="36.50" y="302.63" font-size="6.0" text-anchor="end" font-weight="bold" fill="#111" stroke="#111" stroke-width="0.06" >50</text>
<line x1="37.00" y1="309.83" x2="40.55" y2="309.83" stroke="#000" stroke-width="1.3"/>
<text x="36.50" y="311.99" font-size="6.0" text-anchor="end" font-weight="bold" fill="#111" stroke="#111" stroke-width="0.06" >40</text>
<line x1="37.00" y1="319.20" x2="40.55" y2="319.20" stroke="#000" stroke-width="1.3"/>
<text x="36.50" y="321.36" font-size="6.0" text-anchor="end" font-weight="bold" fill="#111" stroke="#111" stroke-width="0.06" >30</text>
<line x1="37.00" y1="328.57" x2="40.55" y2="328.57" stroke="#000" stroke-width="1.3"/>
<text x="36.50" y="330.73" font-size="6.0" text-anchor="end" font-weight="bold" fill="#111" stroke="#111" stroke-width="0.06" >20</text>
<line x1="37.00" y1="337.93" x2="40.55" y2="337.93" stroke="#000" stroke-width="1.3"/>
<text x="36.50" y="340.09" font-size="6.0" text-anchor="end" font-weight="bold" fill="#111" stroke="#111" stroke-width="0.06" >10</text>
<line x1="37.00" y1="347.30" x2="40.55" y2="347.30" stroke="#000" stroke-width="1.3"/>
<text x="36.50" y="349.46" font-size="6.0" text-anchor="end" font-weight="bold" fill="#111" stroke="#111" stroke-width="0.06" >0</text>
<line x1="39.25" y1="347.30" x2="166.40" y2="347.30" stroke="#000" stroke-width="1.3"/>
<line x1="61.50" y1="347.30" x2="61.50" y2="349.50" stroke="#000" stroke-width="1.3"/>
<line x1="103.40" y1="347.30" x2="103.40" y2="349.50" stroke="#000" stroke-width="1.3"/>
<line x1="145.20" y1="347.30" x2="145.20" y2="349.50" stroke="#000" stroke-width="1.3"/>
<text x="60.50" y="358.75" font-size="6.8" text-anchor="middle" font-weight="normal" fill="#111" stroke="#111" stroke-width="0.18" >200cGy</text>
<text x="104.30" y="358.75" font-size="6.8" text-anchor="middle" font-weight="normal" fill="#111" stroke="#111" stroke-width="0.18" >400cGy</text>
<text x="148.20" y="358.75" font-size="6.8" text-anchor="middle" font-weight="normal" fill="#111" stroke="#111" stroke-width="0.18" >600cGy</text>
<rect x="67.50" y="257.20" width="10.60" height="4.30" fill="#fff" stroke="#000" stroke-width="1.2"/>
<rect x="66.90" y="265.80" width="11.80" height="5.50" fill="#000"/>
<text x="79.60" y="261.82" font-size="6.85" text-anchor="start" font-weight="normal" fill="#111" stroke="#111" stroke-width="0.18" >Vehicle</text>
<text x="79.60" y="271.02" font-size="6.85" text-anchor="start" font-weight="normal" fill="#111" stroke="#111" stroke-width="0.18" >Sunitinib</text>
<text x="0" y="0" font-size="7.2" text-anchor="middle" fill="#111" stroke="#111" stroke-width="0.18" transform="translate(22.89,298.70) rotate(-90)">Donor derived BM cells (%)</text>
<rect x="239.70" y="342.60" width="10.10" height="13.70" fill="#fff" stroke="#000" stroke-width="1.2"/>
<line x1="244.75" y1="338.20" x2="244.75" y2="342.00" stroke="#2a2a2a" stroke-width="0.9"/>
<line x1="241.90" y1="338.20" x2="247.60" y2="338.20" stroke="#000" stroke-width="1.0"/>
<rect x="254.70" y="341.40" width="12.00" height="14.90" fill="#000"/>
<line x1="260.60" y1="338.20" x2="260.60" y2="341.40" stroke="#2a2a2a" stroke-width="0.9"/>
<line x1="257.70" y1="338.20" x2="263.50" y2="338.20" stroke="#000" stroke-width="1.0"/>
<rect x="282.90" y="316.40" width="10.20" height="39.90" fill="#fff" stroke="#000" stroke-width="1.2"/>
<line x1="287.80" y1="307.50" x2="287.80" y2="315.80" stroke="#2a2a2a" stroke-width="0.9"/>
<line x1="284.80" y1="307.50" x2="290.80" y2="307.50" stroke="#000" stroke-width="1.0"/>
<rect x="298.20" y="319.70" width="12.10" height="36.60" fill="#000"/>
<line x1="304.65" y1="313.30" x2="304.65" y2="319.70" stroke="#2a2a2a" stroke-width="0.9"/>
<line x1="301.80" y1="313.30" x2="307.50" y2="313.30" stroke="#000" stroke-width="1.0"/>
<path d="M326.3 285.6 V271.9 H337.0 V285.6" fill="#fff" stroke="#000" stroke-width="1.2"/>
<path d="M326.3 290.8 V356.3 M337.0 290.8 V356.3" fill="none" stroke="#000" stroke-width="1.2"/>
<rect x="341.7" y="271.3" width="11.9" height="14.3" fill="#000"/>
<rect x="341.7" y="290.8" width="11.9" height="65.50" fill="#000"/>
<line x1="231.30" y1="291.10" x2="231.30" y2="356.30" stroke="#000" stroke-width="1.3"/>
<line x1="228.40" y1="291.70" x2="233.50" y2="291.70" stroke="#000" stroke-width="1.3"/>
<text x="227.90" y="293.86" font-size="6.0" text-anchor="end" font-weight="bold" fill="#111" stroke="#111" stroke-width="0.06" >20</text>
<line x1="228.40" y1="324.00" x2="231.95" y2="324.00" stroke="#000" stroke-width="1.3"/>
<text x="227.90" y="326.16" font-size="6.0" text-anchor="end" font-weight="bold" fill="#111" stroke="#111" stroke-width="0.06" >10</text>
<line x1="228.40" y1="356.30" x2="231.95" y2="356.30" stroke="#000" stroke-width="1.3"/>
<text x="227.90" y="358.46" font-size="6.0" text-anchor="end" font-weight="bold" fill="#111" stroke="#111" stroke-width="0.06" >0</text>
<line x1="231.30" y1="269.70" x2="231.30" y2="285.50" stroke="#000" stroke-width="1.3"/>
<line x1="228.40" y1="270.30" x2="231.95" y2="270.30" stroke="#000" stroke-width="1.3"/>
<text x="227.90" y="272.46" font-size="6.0" text-anchor="end" font-weight="bold" fill="#111" stroke="#111" stroke-width="0.06" >100</text>
<line x1="228.40" y1="285.50" x2="233.50" y2="285.50" stroke="#000" stroke-width="1.3"/>
<text x="227.90" y="287.66" font-size="6.0" text-anchor="end" font-weight="bold" fill="#111" stroke="#111" stroke-width="0.06" >50</text>
<line x1="230.65" y1="356.30" x2="361.00" y2="356.30" stroke="#000" stroke-width="1.3"/>
<text x="254.40" y="366.34" font-size="6.5" text-anchor="middle" font-weight="normal" fill="#111" stroke="#111" stroke-width="0.18" >Bone Marrow</text>
<text x="296.90" y="366.34" font-size="6.5" text-anchor="middle" font-weight="normal" fill="#111" stroke="#111" stroke-width="0.18" >Splenocytes</text>
<text x="339.70" y="366.34" font-size="6.5" text-anchor="middle" font-weight="normal" fill="#111" stroke="#111" stroke-width="0.18" >Thymocytes</text>
<rect x="348.40" y="244.20" width="9.90" height="4.20" fill="#fff" stroke="#000" stroke-width="1.2"/>
<rect x="347.80" y="252.70" width="11.10" height="5.20" fill="#000"/>
<text x="359.70" y="248.77" font-size="6.85" text-anchor="start" font-weight="normal" fill="#111" stroke="#111" stroke-width="0.18" >Vehicle</text>
<text x="359.70" y="257.77" font-size="6.85" text-anchor="start" font-weight="normal" fill="#111" stroke="#111" stroke-width="0.18" >Sunitinib</text>
<text x="0" y="0" font-size="8.0" text-anchor="middle" fill="#111" stroke="#111" stroke-width="0.18" transform="translate(213.48,313.90) rotate(-90)">Donor derived cells (%)</text>
</g>
</svg>
</body></html>
